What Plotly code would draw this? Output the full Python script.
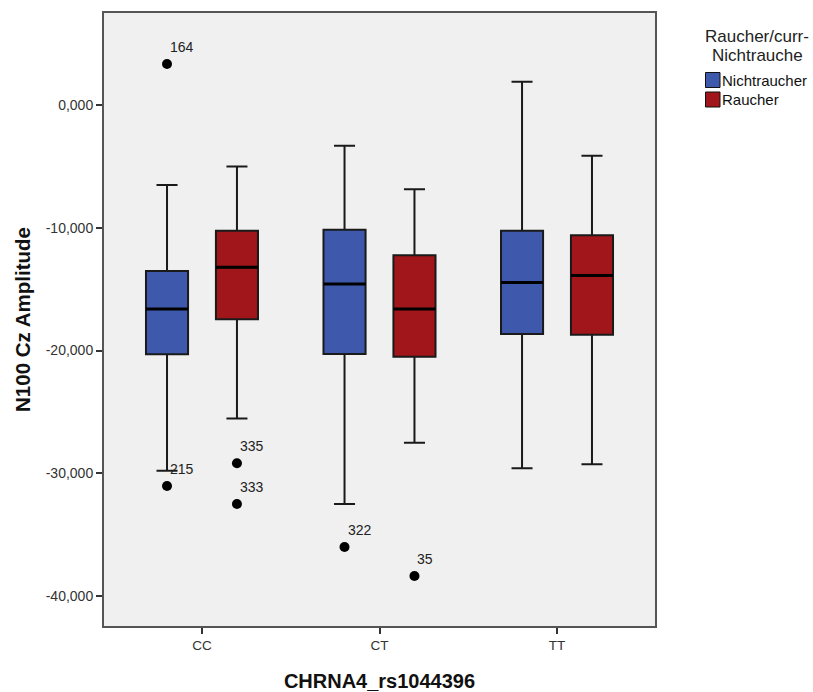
import plotly.graph_objects as go

categories = ["CC", "CT", "TT"]
groups = ["Nichtraucher", "Raucher"]
legend_title_lines = ["Raucher/curr-", "Nichtrauche"]

# box statistics per group (values for CC, CT, TT)
nicht_upper = [-6520, -3310, 1900]
nicht_q3 = [-13520, -10160, -10240]
nicht_median = [-16620, -14580, -14470]
nicht_q1 = [-20310, -20290, -18660]
nicht_lower = [-29790, -32510, -29600]

raucher_upper = [-5000, -6870, -4130]
raucher_q3 = [-10240, -12250, -10620]
raucher_median = [-13220, -16620, -13880]
raucher_q1 = [-17460, -20500, -18710]
raucher_lower = [-25530, -27510, -29270]

# outliers: category index, group, value, case label
outlier_cat = [0, 0, 0, 0, 1, 1]
outlier_group = ["Nichtraucher", "Nichtraucher", "Raucher", "Raucher", "Nichtraucher", "Raucher"]
outlier_value = [3340, -31040, -29190, -32510, -36010, -38370]
outlier_label = ["164", "215", "335", "333", "322", "35"]

ytick_vals = [0, -10000, -20000, -30000, -40000]
ytick_text = ["0,000", "-10,000", "-20,000", "-30,000", "-40,000"]

colors = {"Nichtraucher": "#3E58AC", "Raucher": "#A0161A"}
offset = {"Nichtraucher": -0.197, "Raucher": 0.197}
box_w = 0.237

stats = {
    "Nichtraucher": (nicht_lower, nicht_q1, nicht_median, nicht_q3, nicht_upper),
    "Raucher": (raucher_lower, raucher_q1, raucher_median, raucher_q3, raucher_upper),
}

FONT = "Liberation Sans, Arial, sans-serif"

fig = go.Figure()
for g in groups:
    lo, q1, med, q3, up = stats[g]
    xs = [i + offset[g] for i in range(len(categories))]
    fig.add_trace(go.Box(
        x=xs, q1=q1, median=med, q3=q3, lowerfence=lo, upperfence=up,
        name=g, width=box_w, whiskerwidth=0.5,
        fillcolor=colors[g], line=dict(color="#1a1a1a", width=2),
        boxpoints=False, hoverinfo="skip", showlegend=False,
    ))
    # thicker median lines
    for i in range(len(categories)):
        fig.add_trace(go.Scatter(
            x=[xs[i] - box_w / 2, xs[i] + box_w / 2], y=[med[i], med[i]],
            mode="lines", line=dict(color="black", width=3),
            showlegend=False, hoverinfo="skip",
        ))

ox = [c + offset[g] for c, g in zip(outlier_cat, outlier_group)]
fig.add_trace(go.Scatter(
    x=ox, y=outlier_value, mode="markers",
    marker=dict(color="black", size=10), showlegend=False, hoverinfo="skip",
))
for x, y, t in zip(ox, outlier_value, outlier_label):
    fig.add_annotation(x=x, y=y, text=t, showarrow=False, xanchor="left", yanchor="bottom",
                       xshift=1, yshift=7, font=dict(size=14, color="#222"))

# manual legend (paper coordinates; plot area spans px 104..655 x 13..626)
def px_x(p):
    return (p - 104) / 551

def px_y(p):
    return (626 - p) / 613

for k, line in enumerate(legend_title_lines):
    fig.add_annotation(xref="paper", yref="paper", x=px_x(757), y=px_y(37 + 19 * k),
                       xanchor="center", yanchor="middle", text=line, showarrow=False,
                       font=dict(size=17, color="#222"))
for k, g in enumerate(groups):
    yc = 80 + 19.5 * k  # pixel centre of the legend row
    fig.add_shape(type="rect", xref="paper", yref="paper",
                  x0=px_x(705.5), x1=px_x(720), y0=px_y(yc + 7.5), y1=px_y(yc - 7.5),
                  fillcolor=colors[g], line=dict(color="#111", width=1))
    fig.add_annotation(xref="paper", yref="paper", x=px_x(720), y=px_y(yc), xanchor="left",
                       yanchor="middle", text=g, showarrow=False, font=dict(size=15, color="#111"))

fig.update_layout(
    width=813, height=692,
    margin=dict(l=104, r=158, t=13, b=66, autoexpand=False),
    paper_bgcolor="white", plot_bgcolor="#F0F0F0",
    font=dict(family=FONT, size=12, color="#222"),
    showlegend=False, hovermode=False,
    xaxis=dict(
        range=[-0.552, 2.552], tickvals=[0, 1, 2], ticktext=categories,
        ticks="outside", ticklen=6, tickcolor="#333", tickwidth=1.5,
        showgrid=False, zeroline=False, automargin=False,
        showline=True, linecolor="#555", linewidth=2, mirror=True,
        title=dict(text="<b>CHRNA4_rs1044396</b>", font=dict(size=20, color="#111"), standoff=22),
        tickfont=dict(size=13.5, color="#333"),
    ),
    yaxis=dict(
        range=[-42444, 7495], tickvals=ytick_vals, ticktext=ytick_text,
        ticks="outside", ticklen=6, tickcolor="#333", tickwidth=1.5,
        showgrid=False, zeroline=False, automargin=False,
        showline=True, linecolor="#555", linewidth=2, mirror=True,
        title=dict(text="<b>N100 Cz Amplitude</b>", font=dict(size=20.5, color="#111"), standoff=10),
        tickfont=dict(size=14, color="#333"),
    ),
)

fig.write_html("out.html", config={"displayModeBar": False},
               post_script="document.body.style.margin='0';")
